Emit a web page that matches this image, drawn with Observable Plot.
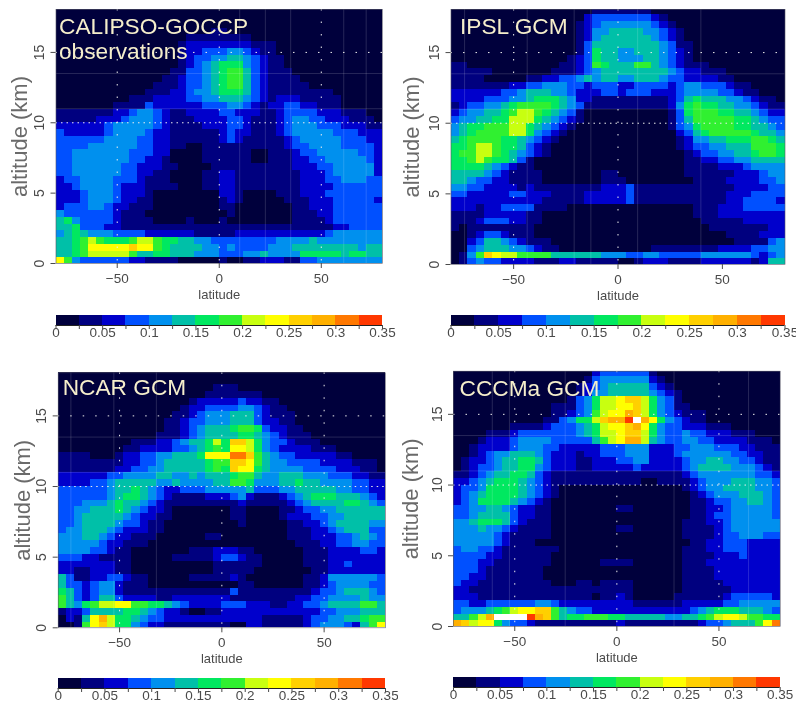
<!DOCTYPE html>
<html>
<head>
<meta charset="utf-8">
<style>
html,body{margin:0;padding:0;background:#fff}
#page{position:relative;width:796px;height:705px;overflow:hidden;filter:blur(0.7px)}
#page svg{position:absolute;max-width:none;background:transparent}
</style>
<script src="https://cdn.jsdelivr.net/npm/d3@7"></script>
<script src="https://cdn.jsdelivr.net/npm/@observablehq/plot@0.6"></script>
</head>
<body>
<div id="page"></div>
<script>
// Cloud fraction, read as colour-bin indices (hex; e = above the scale). Rows run top (18 km) to bottom (0 km),
// each row has four groups of ten 4-degree columns from 80S to 80N.
const calipso = [
"0000000000 0000000000 0000000000 0000000000",
"0000000000 0000000000 0000000000 0000000000",
"0000000000 0000000000 0000000000 0000000000",
"0000000000 0000000001 1000000000 0000000000",
"0000000000 0000001111 1111000000 0000000000",
"0000000000 0000012222 2222111000 0000000000",
"0000000000 0000012233 3443211000 0000000000",
"0000000000 0000012334 4554321100 0000000000",
"0000000000 0000012345 6664321100 0000000000",
"0000000000 0000113345 6775321110 0000000000",
"0000000000 0001123345 6775321111 0000000000",
"0000000000 0011123345 6775321111 1000000000",
"0000000000 0111223445 6665321111 1111000000",
"0000000001 1122223344 5554321222 1111100000",
"0000000111 1322222233 3443212233 2211100000",
"1111111223 4432112222 3322211233 3322211100",
"1111122234 4432111222 2332111234 4332221110",
"2222223444 4432111122 2332111234 4433322211",
"3222223444 4322111111 2322111234 4444333222",
"3333334444 3322111111 2321111123 4444433322",
"3333444444 3322110011 1111111123 3444433332",
"3344444443 3322000011 1111001112 3344444332",
"3344444443 3221000011 1111001112 2334444432",
"3344444433 2221100001 1111111112 2233444442",
"3344444433 2211000011 2211111111 2223444442",
"2334444333 2111000011 2211111111 2223344433",
"2234444322 2111100011 2211111111 2222333333",
"2223444322 2100000000 2210000111 2223333333",
"2223444322 1100000000 1210000011 1222333332",
"2333443221 1100000000 1100000001 1222333333",
"4333333211 1000000000 0100000001 1122333333",
"5643333211 1100001000 1000000001 1112333333",
"5563332211 1111111111 1111111111 1111223333",
"4565444333 3222222111 1122222222 2223444444",
"5567876667 8876655443 3333333444 4544444444",
"556799999a 9976555544 3433334445 5555555455",
"5567888887 5566555444 3334454444 6666656655",
"9743333332 2111100000 1001122211 3344444444"
];
const ipsl = [
"0000000000 0000000111 1111000000 0000000000",
"0000000000 0000002333 3333210000 0000000000",
"0000000000 0000012344 4444321000 0000000000",
"0000000000 0000012445 5554432100 0000000000",
"0000000000 0000012455 5555432100 0000000000",
"0000000000 0000013555 5555543110 0000000000",
"0000000000 0000013655 4455543210 0000000000",
"0000000000 0000123655 4445543210 0000000000",
"1100000000 0001123765 5577543211 1000000000",
"1111100000 0011123455 5555554322 1110000000",
"1111000001 1223345455 4455543322 2211000000",
"1111111223 3444332333 2233332344 3332110000",
"2222223345 5544322233 2333222344 4433211000",
"2222333445 6665422111 1111112356 5554432110",
"1233445677 7765431111 1111112467 6655443211",
"2344556788 7654310000 0000001367 7766554322",
"3445566888 6543210000 0000001357 7777665433",
"4566777886 5432100000 0000001346 7777665543",
"4567777886 4321000000 0000000235 6777776554",
"5677776654 3210000000 0000000124 4556667765",
"6678876653 2100000000 0000000123 3445557776",
"6778876543 2100000000 0000000012 3344556776",
"6678766531 0000000000 0000000011 2233445555",
"6666543211 0000000000 0000000011 1122234444",
"5555432111 1000000011 0000000011 1111222344",
"5543322111 1000000011 1000000001 1112222334",
"4433222212 1111111122 2311111111 1111222233",
"3322222332 2211112222 2311111111 1112223333",
"2222222222 2111112222 2311111111 1112233332",
"2221223333 1111000000 0000000001 1122233333",
"1111222221 1000000000 0000000001 1122222222",
"1112333221 1000000000 0000000000 1111122222",
"1011111111 0000000000 0000000000 0111111122",
"0012332111 0000000000 0000000000 0001111222",
"0023554321 1100000000 0000000000 0000111134",
"0034555443 2110000000 0000111111 1122223344",
"0147a98877 7755555544 4334433333 4444443234",
"0134332222 1112211111 0012221111 2222221255"
];
const ncar = [
"0000000000 0000000000 0000000000 0000000000",
"0000000000 0000000000 0000000000 0000000000",
"0000000000 0000000001 1100000000 0000000000",
"0000000000 0000000011 1111100000 0000000000",
"0000000000 0000001222 2232211000 0000000000",
"0000000000 0000012233 3344321100 0000000000",
"0000000000 0000112344 4555321110 0000000000",
"0000000000 0001123344 4555322110 0000000000",
"0000000000 0001123455 5677632211 0000000000",
"0000000000 0011123455 5566543211 1000000000",
"0000000001 1122345568 6aa8643321 1100000000",
"0000000011 2222334567 6998643222 2111000000",
"1111000122 3344555699 9cca754332 2222110000",
"1111111122 3345555567 7aa9754433 3322221110",
"1111111223 3445555567 6a99654444 3333222110",
"2222223344 4455445455 5677544555 4443332211",
"2222334555 5544544445 5776444556 5544443322",
"3333334556 5432233344 4445333445 5555443322",
"3333334566 5432111122 2342111234 5666555432",
"3334445655 4321111111 1121111123 4555566543",
"3344555654 3221000000 0110000112 3344555555",
"3345555543 2211000000 0110000122 2334455555",
"3345555433 2110000000 0010000011 2234555544",
"3445554322 2110000000 0000000011 1223455533",
"4445543221 1100000011 0000000011 1222334543",
"4444432211 1000000000 0000000001 1122334433",
"4444332110 0000001112 2211000000 1112222332",
"3332211110 0000111112 3321100000 1112222222",
"2222222110 0000000001 1111100000 1112232222",
"2211222110 0000000001 1111000000 0112222222",
"5311223321 1000001111 1210000000 1124444443",
"5332344211 1000000000 0011000000 1123444433",
"6532344211 1111111111 1311111111 1233455543",
"7532355322 2211222222 2111111112 2334444544",
"7546788997 7665432222 3332221122 3345555775",
"1223555566 5432210011 2222222222 2233444555",
"02159b8665 4332222222 2222211111 2334455677",
"00179a8664 3221111111 1002211111 2344432579"
];
const cccma = [
"0000000000 0000000233 3333100000 0000000000",
"0000000000 0000001344 4444210000 0000000000",
"0000000000 0000012345 5555321000 0000000000",
"0000000000 0000012445 5555432100 0000000000",
"0000000000 0000134688 9aa8643100 0000000000",
"0000000000 0011134688 99a8643110 0000000000",
"0000000000 0011234789 9ba8643211 1000000000",
"0000000000 01134668ab bdeb964321 1000000000",
"0000000111 1233345689 9ab9643322 2111000000",
"0000111233 3333345688 9aa8643343 3222111000",
"0001222344 4433333578 9bb8543344 3322221110",
"0012222344 4332222233 3444222334 4433322111",
"0012344555 4322212233 3444222344 4444332211",
"0122345566 5322211222 3344222234 4554433211",
"0123345566 4322211222 2232222234 5555444321",
"1123455665 3211111111 1111111123 4444444332",
"2234566654 3211111111 1110011112 3444555443",
"2334666654 3210000000 0000000012 3445555443",
"2345666654 3210000000 0000000001 2344455543",
"2346666543 2100000000 0000000001 1233445543",
"3344554322 1100000000 1100000001 1223444443",
"3345555322 1100000000 0000000001 1233444443",
"4456665321 1100000000 0000000011 1223444444",
"4445443211 1100000000 1100000011 1123444444",
"4444432111 1100000000 0000000011 1123344433",
"4444432111 0000000000 0000000001 1223332222",
"3443321111 1110000000 0000000011 1223332222",
"3333221111 1100000000 0000000011 1122232222",
"3332211111 1100000011 1100000011 1222222222",
"3332111111 1000000000 0000000011 1122222222",
"3322111111 1000000000 0000000011 1122222222",
"3221111111 1100011011 1100000011 1112222222",
"2211111111 1111111111 1100000011 1111222222",
"2221111111 1111111011 2100000111 1112333332",
"3322333333 4432222222 2211111122 2223344444",
"3444567899 aa75433222 2222222223 4566655543",
"5578beeeed ba75667776 6555554455 6789987766",
"ba89964332 1111111111 2111111111 233455579c"
];

const thresholds = [0.025,0.05,0.075,0.1,0.125,0.15,0.175,0.2,0.225,0.25,0.275,0.3,0.325,0.35];
const palette = ["#00003c","#00007f","#0000cc","#0050ff","#0090ee","#00c0a8","#00e860","#30f030","#c8ff10","#ffff00","#ffd000","#ffb000","#ff7800","#ff3800","#ffffff"];
const barBins = [0,0.025,0.05,0.075,0.1,0.125,0.15,0.175,0.2,0.225,0.25,0.275,0.3,0.325];
const barTicks = [0,0.025,0.05,0.075,0.1,0.125,0.15,0.175,0.2,0.225,0.25,0.275,0.3,0.325,0.35];
const barLabels = {0:"0",0.05:"0.05",0.1:"0.1",0.15:"0.15",0.2:"0.2",0.25:"0.25",0.3:"0.3",0.35:"0.35"};

const panels = [
  {rows:calipso,title:"CALIPSO-GOCCP\nobservations",left:55.5,right:382,top:9,bottom:263,svgLeft:0,svgTop:0,barTop:315,
   labelX:19.5,titleDx:3,titleDy:7,dotLat:[-50,0,50],faintLat:[10,22.6,35,61,72]},
  {rows:ipsl,title:"IPSL GCM",left:450.5,right:784.5,top:9,bottom:264,svgLeft:398,svgTop:0,barTop:315,
   labelX:411,titleDx:9,titleDy:7,dotLat:[-50,0],faintLat:[-73.5,-43.5,-21,-13,9.4,39.7]},
  {rows:ncar,title:"NCAR GCM",left:57.7,right:385,top:372.3,bottom:627.3,svgLeft:0,svgTop:355,barTop:678.3,
   labelX:22,titleDx:4.5,titleDy:5,dotLat:[-50,0,50],faintLat:[-73.8,-52.8,-32]},
  {rows:cccma,title:"CCCMa GCM",left:453,right:779.7,top:370.7,bottom:626,svgLeft:398,svgTop:355,barTop:677.3,
   labelX:410,titleDx:6,titleDy:7,dotLat:[-50,0,50],faintLat:[-61,-52.6,-25.3,28,64.5]}
];

const altTop = 18.05;
const colorScale = {type:"threshold",domain:thresholds,range:palette};
const grey = "#4a4a4a";
const page = document.getElementById("page");

function cellsOf(rows){
  const out = [];
  const n = rows.length;
  rows.forEach((raw,ri)=>{
    const r = n-1-ri;
    const y1 = r===0 ? 0 : 0.4+0.48*(r-1);
    const y2 = 0.4+0.48*r;
    const chars = raw.replace(/ /g,"");
    for(let c=0;c<40;c++){
      const lvl = parseInt(chars[c] ?? chars[chars.length-1],16);
      out.push({x1:-80+4*c,x2:-80+4*(c+1),y1,y2:Math.min(y2,altTop),value:(lvl+0.5)*0.025});
    }
  });
  return out;
}

for(const p of panels){
  const mL = p.left-p.svgLeft, mT = p.top-p.svgTop;
  const W = 398, mR = W-(p.right-p.svgLeft), mB = 44, H = (p.bottom-p.top)+mT+mB;
  const chart = Plot.plot({
    width:W,height:H,marginLeft:mL,marginRight:mR,marginTop:mT,marginBottom:mB,
    style:{background:"transparent",fontFamily:"Liberation Sans, Arial, sans-serif"},
    x:{domain:[-80,80]},
    y:{domain:[0,altTop]},
    color:colorScale,
    marks:[
      Plot.rect(cellsOf(p.rows),{x1:"x1",x2:"x2",y1:"y1",y2:"y2",fill:"value",shapeRendering:"crispEdges",inset:0}),
      Plot.ruleX(p.faintLat,{stroke:"#fff",strokeOpacity:0.15,strokeWidth:1}),
      Plot.ruleY([11,13.5],{stroke:"#fff",strokeOpacity:0.15,strokeWidth:1}),
      Plot.ruleX(p.dotLat,{stroke:"#eee",strokeWidth:1,strokeDasharray:"1.5,11"}),
      Plot.ruleY([15],{stroke:"#eee",strokeWidth:1,strokeDasharray:"1.5,11"}),
      Plot.ruleY([10],{stroke:"#eee",strokeWidth:1,strokeDasharray:"1.5,4"}),
      Plot.frame({stroke:"#556",strokeWidth:0.6}),
      Plot.axisX({ticks:[-50,0,50],tickSize:5,tickPadding:5,fontSize:13.5,label:null,color:grey,stroke:grey}),
      Plot.axisY({ticks:[0,5,10,15],tickSize:5,tickPadding:7,tickRotate:-90,fontSize:14,label:null,color:grey,stroke:grey}),
      Plot.text(["latitude"],{frameAnchor:"bottom",dy:35,fontSize:13,fill:grey}),
      Plot.text(["altitude (km)"],{frameAnchor:"left",textAnchor:"middle",dx:p.labelX-p.left,rotate:-90,fontSize:22,fill:"#6a6a6a"}),
      Plot.text([p.title],{frameAnchor:"top-left",textAnchor:"start",dx:p.titleDx,dy:p.titleDy,fontSize:22.7,lineHeight:1.09,fill:"#f5eecb"})
    ]
  });
  chart.style.left = p.svgLeft+"px";
  chart.style.top = p.svgTop+"px";
  page.appendChild(chart);

  const barH = 10, bB = 24;
  const bar = Plot.plot({
    width:W,height:barH+bB,marginLeft:mL,marginRight:mR,marginTop:0,marginBottom:bB,
    style:{background:"transparent",fontFamily:"Liberation Sans, Arial, sans-serif"},
    x:{domain:[0,0.35]},
    y:{domain:[0,1],axis:null},
    color:colorScale,
    marks:[
      Plot.rect(barBins,{x1:d=>d,x2:d=>d+0.025,y1:0,y2:1,fill:d=>d+0.0125,shapeRendering:"crispEdges"}),
      Plot.ruleY([0],{stroke:"#222",strokeWidth:1}),
      Plot.axisX({ticks:barTicks,tickSize:4,tickPadding:-2,fontSize:13.5,label:null,color:grey,stroke:grey,
        tickFormat:d=>barLabels[+d.toFixed(3)] ?? ""})
    ]
  });
  bar.style.left = p.svgLeft+"px";
  bar.style.top = p.barTop+"px";
  page.appendChild(bar);
}
</script>
</body>
</html>
